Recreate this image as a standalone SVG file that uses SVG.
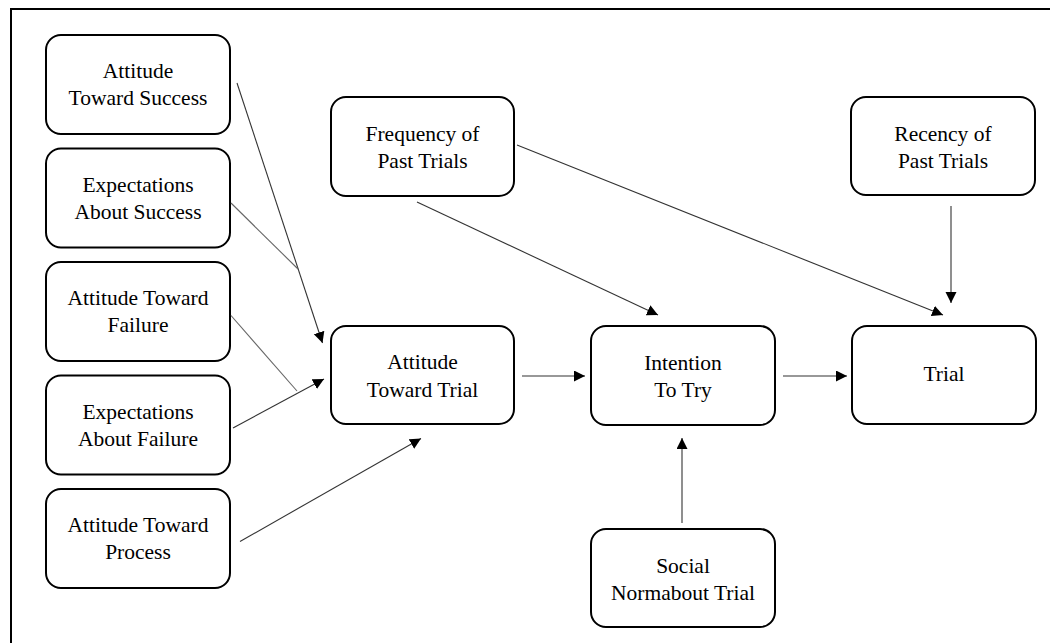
<svg xmlns="http://www.w3.org/2000/svg" width="1050" height="643" viewBox="0 0 1050 643">
  <style>
    .box { fill: #ffffff; stroke: #000000; stroke-width: 2; }
    .lbl { font-family: 'Liberation Serif', 'Times New Roman', Times, 'DejaVu Serif', serif; font-size: 21.5px; fill: #000000; text-anchor: middle; }
    .edge { fill: none; stroke: #333333; stroke-width: 1.1; }
    .join { fill: none; stroke: #666666; stroke-width: 1.1; }
    .arrow { marker-end: url(#head); }
  </style>
  <defs>
    <marker id="head" markerUnits="userSpaceOnUse" markerWidth="12" markerHeight="12" refX="11" refY="5.5" orient="auto">
      <path d="M0,0 L11,5.5 L0,11 Z" fill="#000000"/>
    </marker>
  </defs>

  <rect width="1050" height="643" fill="#ffffff"/>
  <!-- frame (runs off the right and bottom edges) -->
  <rect x="11" y="9" width="1080" height="680" fill="none" stroke="#000000" stroke-width="2"/>

  <!-- left column of antecedents -->
  <g id="attitude-success" font-family="Liberation Serif, serif">
    <rect class="box" x="46" y="35" width="184" height="99" rx="15"/>
    <text class="lbl" x="138" y="78">Attitude</text>
    <text class="lbl" x="138" y="105">Toward Success</text>
  </g>
  <g id="expectations-success">
    <rect class="box" x="46" y="148.5" width="184" height="99" rx="15"/>
    <text class="lbl" x="138" y="192">Expectations</text>
    <text class="lbl" x="138" y="219">About Success</text>
  </g>
  <g id="attitude-failure">
    <rect class="box" x="46" y="262" width="184" height="99" rx="15"/>
    <text class="lbl" x="138" y="305">Attitude Toward</text>
    <text class="lbl" x="138" y="332">Failure</text>
  </g>
  <g id="expectations-failure">
    <rect class="box" x="46" y="375.5" width="184" height="99" rx="15"/>
    <text class="lbl" x="138" y="419">Expectations</text>
    <text class="lbl" x="138" y="446">About Failure</text>
  </g>
  <g id="attitude-process">
    <rect class="box" x="46" y="489" width="184" height="99" rx="15"/>
    <text class="lbl" x="138" y="532">Attitude Toward</text>
    <text class="lbl" x="138" y="559">Process</text>
  </g>

  <!-- middle and right columns -->
  <g id="frequency">
    <rect class="box" x="331" y="97" width="183" height="99" rx="15"/>
    <text class="lbl" x="422.5" y="141">Frequency of</text>
    <text class="lbl" x="422.5" y="168">Past Trials</text>
  </g>
  <g id="attitude-trial">
    <rect class="box" x="331" y="326" width="183" height="98" rx="15"/>
    <text class="lbl" x="422.5" y="369">Attitude</text>
    <text class="lbl" x="422.5" y="397">Toward Trial</text>
  </g>
  <g id="intention">
    <rect class="box" x="591" y="326" width="184" height="99" rx="15"/>
    <text class="lbl" x="683" y="370">Intention</text>
    <text class="lbl" x="683" y="397">To Try</text>
  </g>
  <g id="social-norm">
    <rect class="box" x="591" y="529" width="184" height="98" rx="15"/>
    <text class="lbl" x="683" y="573">Social</text>
    <text class="lbl" x="683" y="600">Normabout Trial</text>
  </g>
  <g id="recency">
    <rect class="box" x="851" y="97" width="184" height="98" rx="15"/>
    <text class="lbl" x="943" y="141">Recency of</text>
    <text class="lbl" x="943" y="168">Past Trials</text>
  </g>
  <g id="trial">
    <rect class="box" x="852" y="326" width="184" height="98" rx="15"/>
    <text class="lbl" x="944" y="381">Trial</text>
  </g>

  <g id="connectors">
    <!-- success branch merges into one arrow -->
    <line class="edge arrow" x1="237" y1="83" x2="322.5" y2="343"/>
    <line class="join" x1="231" y1="203" x2="298" y2="269"/>
    <!-- failure branch merges into one arrow -->
    <line class="edge arrow" x1="233" y1="428" x2="324" y2="379"/>
    <line class="join" x1="231" y1="315.5" x2="297" y2="391"/>
    <line class="edge arrow" x1="240" y1="541.5" x2="421" y2="438.5"/>
    <!-- main chain -->
    <line class="edge arrow" x1="522" y1="376" x2="585" y2="376"/>
    <line class="edge arrow" x1="783" y1="376" x2="847" y2="376"/>
    <line class="edge arrow" x1="682" y1="523" x2="682" y2="438"/>
    <!-- past-behaviour effects -->
    <line class="edge arrow" x1="417" y1="202" x2="658" y2="315"/>
    <line class="edge arrow" x1="517" y1="145" x2="943" y2="315"/>
    <line class="edge arrow" x1="951" y1="206" x2="951" y2="303"/>
  </g>
</svg>
